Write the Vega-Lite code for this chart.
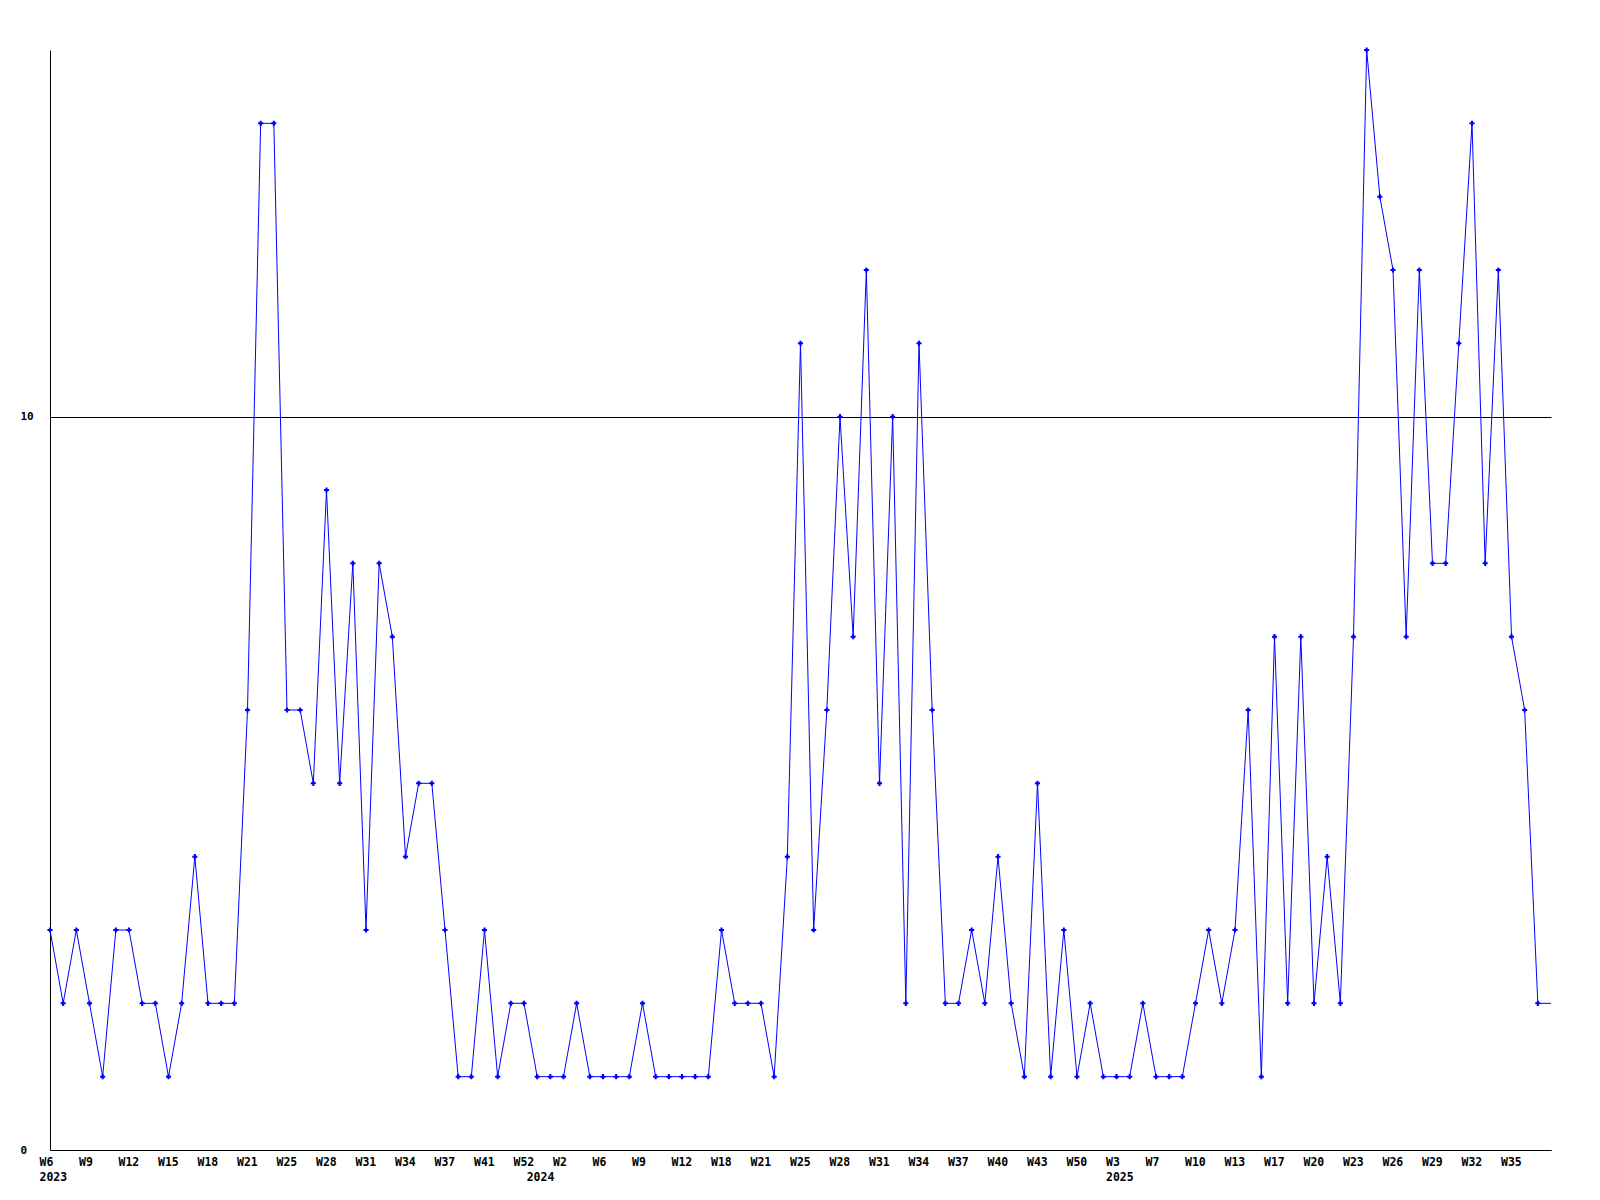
{
  "$schema": "https://vega.github.io/schema/vega-lite/v6.json",
  "autosize": {"type": "none"},
  "width": 1501,
  "height": 1100,
  "padding": {"left": 50, "top": 50, "right": 49, "bottom": 50},
  "background": "white",
  "config": {
    "view": {"stroke": null},
    "axis": {
      "domainColor": "#000000",
      "domainWidth": 1,
      "labelColor": "#000000",
      "labelFont": "DejaVu Sans Mono",
      "labelFontWeight": "bold",
      "labelFontSize": 11.5,
      "ticks": false,
      "tickSize": 0,
      "title": null
    }
  },
  "data": {
    "values": [
      {"i": 0, "v": 3}, {"i": 1, "v": 2}, {"i": 2, "v": 3}, {"i": 3, "v": 2}, {"i": 4, "v": 1},
      {"i": 5, "v": 3}, {"i": 6, "v": 3}, {"i": 7, "v": 2}, {"i": 8, "v": 2}, {"i": 9, "v": 1},
      {"i": 10, "v": 2}, {"i": 11, "v": 4}, {"i": 12, "v": 2}, {"i": 13, "v": 2}, {"i": 14, "v": 2},
      {"i": 15, "v": 6}, {"i": 16, "v": 14}, {"i": 17, "v": 14}, {"i": 18, "v": 6}, {"i": 19, "v": 6},
      {"i": 20, "v": 5}, {"i": 21, "v": 9}, {"i": 22, "v": 5}, {"i": 23, "v": 8}, {"i": 24, "v": 3},
      {"i": 25, "v": 8}, {"i": 26, "v": 7}, {"i": 27, "v": 4}, {"i": 28, "v": 5}, {"i": 29, "v": 5},
      {"i": 30, "v": 3}, {"i": 31, "v": 1}, {"i": 32, "v": 1}, {"i": 33, "v": 3}, {"i": 34, "v": 1},
      {"i": 35, "v": 2}, {"i": 36, "v": 2}, {"i": 37, "v": 1}, {"i": 38, "v": 1}, {"i": 39, "v": 1},
      {"i": 40, "v": 2}, {"i": 41, "v": 1}, {"i": 42, "v": 1}, {"i": 43, "v": 1}, {"i": 44, "v": 1},
      {"i": 45, "v": 2}, {"i": 46, "v": 1}, {"i": 47, "v": 1}, {"i": 48, "v": 1}, {"i": 49, "v": 1},
      {"i": 50, "v": 1}, {"i": 51, "v": 3}, {"i": 52, "v": 2}, {"i": 53, "v": 2}, {"i": 54, "v": 2},
      {"i": 55, "v": 1}, {"i": 56, "v": 4}, {"i": 57, "v": 11}, {"i": 58, "v": 3}, {"i": 59, "v": 6},
      {"i": 60, "v": 10}, {"i": 61, "v": 7}, {"i": 62, "v": 12}, {"i": 63, "v": 5}, {"i": 64, "v": 10},
      {"i": 65, "v": 2}, {"i": 66, "v": 11}, {"i": 67, "v": 6}, {"i": 68, "v": 2}, {"i": 69, "v": 2},
      {"i": 70, "v": 3}, {"i": 71, "v": 2}, {"i": 72, "v": 4}, {"i": 73, "v": 2}, {"i": 74, "v": 1},
      {"i": 75, "v": 5}, {"i": 76, "v": 1}, {"i": 77, "v": 3}, {"i": 78, "v": 1}, {"i": 79, "v": 2},
      {"i": 80, "v": 1}, {"i": 81, "v": 1}, {"i": 82, "v": 1}, {"i": 83, "v": 2}, {"i": 84, "v": 1},
      {"i": 85, "v": 1}, {"i": 86, "v": 1}, {"i": 87, "v": 2}, {"i": 88, "v": 3}, {"i": 89, "v": 2},
      {"i": 90, "v": 3}, {"i": 91, "v": 6}, {"i": 92, "v": 1}, {"i": 93, "v": 7}, {"i": 94, "v": 2},
      {"i": 95, "v": 7}, {"i": 96, "v": 2}, {"i": 97, "v": 4}, {"i": 98, "v": 2}, {"i": 99, "v": 7},
      {"i": 100, "v": 15}, {"i": 101, "v": 13}, {"i": 102, "v": 12}, {"i": 103, "v": 7}, {"i": 104, "v": 12},
      {"i": 105, "v": 8}, {"i": 106, "v": 8}, {"i": 107, "v": 11}, {"i": 108, "v": 14}, {"i": 109, "v": 8},
      {"i": 110, "v": 12}, {"i": 111, "v": 7}, {"i": 112, "v": 6}, {"i": 113, "v": 2}, {"i": 114, "v": 2}
    ]
  },
  "encoding": {
    "x": {
      "field": "i",
      "type": "quantitative",
      "scale": {"domain": [0, 114], "nice": false, "zero": false},
      "axis": {
        "grid": false,
        "values": [0, 3, 6, 9, 12, 15, 18, 21, 24, 27, 30, 33, 36, 37, 39, 42, 45, 48, 51, 54, 57, 60, 63, 66, 69, 72, 75, 78, 81, 84, 87, 90, 93, 96, 99, 102, 105, 108, 111],
        "labelExpr": "datum.value == 37 ? ['', '2024'] : datum.value == 0 ? ['W6', '2023'] : datum.value == 81 ? ['W3', '2025'] : ['W6','W9','W12','W15','W18','W21','W25','W28','W31','W34','W37','W41','W52','W2','W6','W9','W12','W18','W21','W25','W28','W31','W34','W37','W40','W43','W50','W3','W7','W10','W13','W17','W20','W23','W26','W29','W32','W35'][datum.value / 3]",
        "labelAlign": "left",
        "labelBaseline": "top",
        "labelOffset": -11,
        "labelPadding": 6,
        "labelLineHeight": 15,
        "labelFlush": false,
        "labelOverlap": false,
        "labelBound": false
      }
    },
    "y": {
      "field": "v",
      "type": "quantitative",
      "scale": {"domain": [0, 15], "nice": false},
      "axis": {
        "values": [0, 10],
        "grid": true,
        "gridColor": "#000000",
        "gridOpacity": 1,
        "gridWidth": 1,
        "labelAlign": "left",
        "labelBaseline": "middle",
        "labelPadding": 30,
        "labelFontSize": 11
      }
    }
  },
  "layer": [
    {
      "mark": {"type": "line", "color": "#0000ff", "strokeWidth": 1, "clip": false}
    },
    {
      "transform": [{"filter": "datum.i < 114"}],
      "mark": {"type": "point", "shape": "cross", "filled": true, "size": 26, "color": "#0000ff", "opacity": 1}
    }
  ]
}
